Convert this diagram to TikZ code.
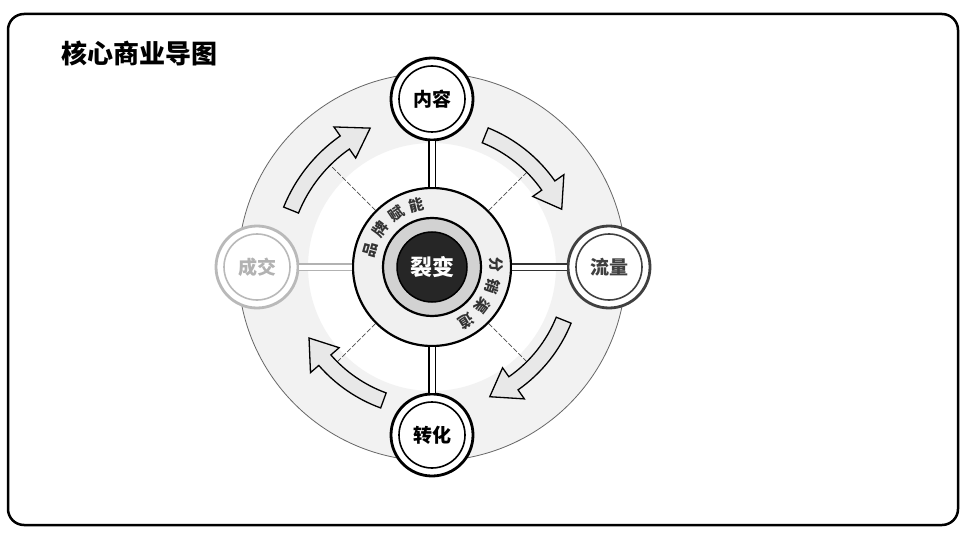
\documentclass[tikz,border=0pt]{standalone}
\usepackage{fontspec}
\setmainfont{Noto Sans CJK SC}
\usetikzlibrary{calc}
\tikzset{
  frame/.style={draw=black, line width=2.5pt, rounded corners=16pt},
  mainnode/.style={circle, draw=#1, line width=2.8pt, fill=white, minimum size=82pt, inner sep=0pt,
    font=\bfseries\fontsize{19}{19}\selectfont},
  innerring/.style={draw=#1, line width=1.6pt},
  spoke/.style={draw=#1, line width=1.8pt, double=white, double distance=5pt},
  diag/.style={draw=black!70, line width=0.7pt, dash pattern=on 5pt off 2pt},
  cyc/.style={fill=gray!18, draw=black, line width=1.3pt, line join=miter},
  ringchar/.style={font=\bfseries\fontsize{15}{15}\selectfont, inner sep=0pt, text=black!80},
}
\newcommand{\cyclearrow}[3]{%
  \filldraw[cyc] ({#1}:{#3+8}) arc[start angle={#1}, end angle={#2+11}, radius={#3+8}]
    -- ({#2+11}:{#3+19}) -- ({#2}:{#3}) -- ({#2+11}:{#3-19}) -- ({#2+11}:{#3-8})
    arc[start angle={#2+11}, end angle={#1}, radius={#3-8}] -- cycle;}
\begin{document}
\begin{tikzpicture}[x=1pt,y=1pt]
\useasboundingbox (0,0) rectangle (968,539);
\fill[white] (0,0) rectangle (968,539);
\draw[frame] (8,14) rectangle (958,525);
\node[anchor=west, font=\bfseries\fontsize{26}{26}\selectfont] (title) at (58,486) {核心商业导图};
\begin{scope}[shift={(432,272)}]
  % band
  \fill[gray!10, even odd rule] (0,0) circle (194) (0,0) circle (124);
  \draw[black!60, line width=0.8pt] (0,0) circle (194);
  % centre ring
  \node[circle, draw=black, line width=2.2pt, fill=gray!12, minimum size=158pt, inner sep=0pt] (ring) at (0,0) {};
  % diagonal guide lines
  \coordinate (g1) at (135:150);
  \coordinate (g2) at (45:150);
  \coordinate (g3) at (-45:150);
  \coordinate (g4) at (-135:150);
  \foreach \g in {g1,g2,g3,g4} \draw[diag] (ring) -- (\g);
  % cycle arrows (clockwise)
  \cyclearrow{158}{114}{152}
  \cyclearrow{68}{24}{142}
  \cyclearrow{-22}{-66}{142}
  \cyclearrow{250}{210}{142}
  % outer nodes
  \node[mainnode=black] (top) at (0,168) {内容};
  \node[mainnode=black!75, text=black!75] (right) at (177,0) {流量};
  \node[mainnode=black] (bottom) at (0,-168) {转化};
  \node[mainnode=gray!55, text=gray!60] (left) at (-175,0) {成交};
  \draw[innerring=black] (top.center) circle (33);
  \draw[innerring=black!75] (right.center) circle (33);
  \draw[innerring=black] (bottom.center) circle (33);
  \draw[innerring=gray!55] (left.center) circle (33);
  % spokes
  \draw[spoke=black] (ring) -- (top);
  \draw[spoke=black] (ring) -- (bottom);
  \draw[spoke=black!80] (ring) -- (right);
  \draw[spoke=gray!60] (ring) -- (left);
  % ring text
  \foreach \ch/\a in {品/164,牌/144,赋/124,能/104}
    \node[ringchar, rotate=\a-90] at (\a:64) {\ch};
  \foreach \ch/\a in {分/2,销/-18,渠/-38,道/-58}
    \node[ringchar, rotate=\a-90] at (\a:64) {\ch};
  % core
  \draw[black, line width=2.2pt, fill=gray!35] (0,0) circle (49);
  \node[circle, fill=black!85, draw=black, line width=1.5pt, minimum size=70pt, inner sep=0pt,
        text=white, font=\bfseries\fontsize{22}{22}\selectfont] (core) at (0,0) {裂变};
\end{scope}
\end{tikzpicture}
\end{document}
